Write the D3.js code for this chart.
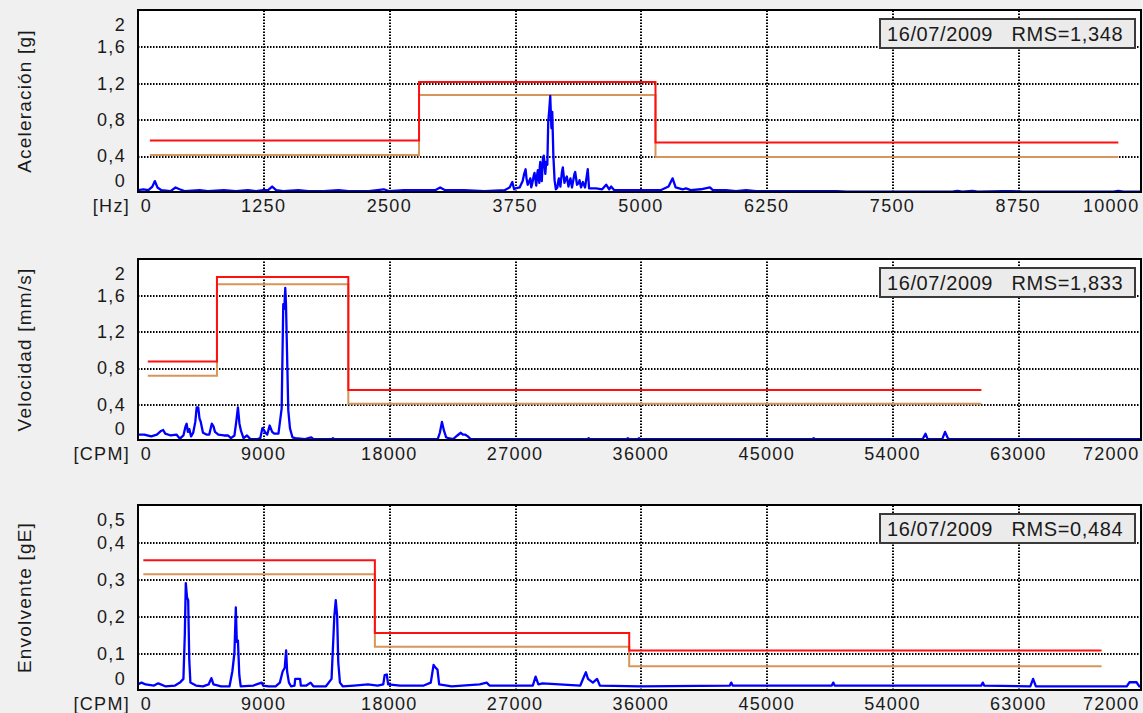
<!doctype html>
<meta charset="utf-8">
<title>Espectros de vibración</title>
<script src="https://cdn.jsdelivr.net/npm/d3@7"></script>
<style>
  body { margin: 0; background: #f0f0f0; }
  svg text { font-family: "Liberation Sans", Arial, sans-serif; }
</style>
<svg id="chart" width="1143" height="713"></svg>
<script>
  // --- datos ---
  const accelXTicks = [0, 1250, 2500, 3750, 5000, 6250, 7500, 8750, 10000]
  const cpmXTicks = [0, 9000, 18000, 27000, 36000, 45000, 54000, 63000, 72000]
  const accelYTicks = [0, 0.4, 0.8, 1.2, 1.6, 2]
  const velYTicks = [0, 0.4, 0.8, 1.2, 1.6, 2]
  const envYTicks = [0, 0.1, 0.2, 0.3, 0.4, 0.5]

  // limites: [inicio, nivel] con curva escalonada
  const accelAlarm = [[125, 0.565], [2800, 1.21], [5150, 0.545], [9750, 0.545]]
  const accelAlert = [[125, 0.407], [2800, 1.066], [5150, 0.385], [9750, 0.385]]
  const velAlarm = [[750, 0.867], [5700, 1.80], [15100, 0.552], [60400, 0.552]]
  const velAlert = [[750, 0.711], [5700, 1.72], [15100, 0.40], [60400, 0.40]]
  const envAlarm = [[430, 0.351], [17000, 0.154], [35200, 0.107], [69000, 0.107]]
  const envAlert = [[430, 0.313], [17000, 0.117], [35200, 0.064], [69000, 0.064]]

  // espectro aceleracion [Hz, g]
  const accelSpectrum = [
    [0, 0.02], [60, 0.03], [110, 0.02], [150, 0.06], [175, 0.12], [200, 0.05], [240, 0.02], [330, 0.01],
    [380, 0.05], [420, 0.03], [470, 0.01], [620, 0.02], [700, 0.01], [860, 0.02], [980, 0.01], [1100, 0.02],
    [1180, 0.01], [1250, 0.02], [1300, 0.02], [1340, 0.06], [1380, 0.02], [1450, 0.01], [1600, 0.02],
    [1700, 0.01], [1850, 0.01], [2000, 0.02], [2100, 0.01], [2300, 0.01], [2450, 0.03], [2500, 0.01],
    [2650, 0.02], [2800, 0.02], [2960, 0.02], [3010, 0.05], [3060, 0.02], [3250, 0.02], [3450, 0.01],
    [3650, 0.02], [3700, 0.05], [3727, 0.11], [3745, 0.03], [3760, 0.04], [3800, 0.05], [3830, 0.12],
    [3845, 0.2], [3859, 0.25], [3868, 0.15], [3880, 0.08], [3895, 0.12], [3906, 0.15], [3915, 0.05],
    [3925, 0.09], [3940, 0.18], [3948, 0.21], [3965, 0.07], [3975, 0.2], [3981, 0.24], [3995, 0.1],
    [4000, 0.28], [4005, 0.33], [4020, 0.12], [4032, 0.38], [4040, 0.40], [4055, 0.2], [4064, 0.33],
    [4075, 0.3], [4084, 0.77], [4094, 0.9], [4104, 1.055], [4112, 0.8], [4116, 0.7], [4124, 0.88],
    [4135, 0.4], [4147, 0.13], [4160, 0.03], [4175, 0.05], [4184, 0.12], [4190, 0.15], [4205, 0.06],
    [4220, 0.22], [4229, 0.27], [4245, 0.1], [4260, 0.15], [4269, 0.17], [4285, 0.06], [4298, 0.12],
    [4305, 0.15], [4320, 0.05], [4345, 0.2], [4352, 0.22], [4370, 0.08], [4388, 0.1], [4395, 0.13],
    [4410, 0.05], [4428, 0.11], [4450, 0.05], [4470, 0.2], [4477, 0.25], [4490, 0.04], [4560, 0.04],
    [4620, 0.03], [4660, 0.08], [4690, 0.03], [4709, 0.06], [4740, 0.02], [4900, 0.02], [5100, 0.02],
    [5200, 0.02], [5280, 0.06], [5320, 0.15], [5350, 0.05], [5420, 0.03], [5453, 0.04], [5500, 0.02],
    [5600, 0.03], [5691, 0.05], [5720, 0.02], [5850, 0.02], [5950, 0.01], [6050, 0.02], [6150, 0.01],
    [6300, 0.01], [6600, 0.01], [6950, 0.01], [7050, 0.005], [8100, 0.005], [8150, 0.012], [8200, 0.005],
    [8300, 0.012], [8350, 0.005], [8600, 0.01], [8700, 0.01], [8800, 0.005], [9700, 0.005], [9750, 0.012],
    [9800, 0.005], [10000, 0.005]
  ]

  // espectro velocidad [CPM, mm/s]
  const velSpectrum = [
    [0, 0.06], [500, 0.06], [1000, 0.04], [1400, 0.06], [1700, 0.10], [1850, 0.11], [2000, 0.07],
    [2400, 0.05], [2800, 0.06], [3050, 0.015], [3300, 0.05], [3450, 0.15], [3530, 0.18], [3620, 0.09],
    [3720, 0.12], [3850, 0.04], [4000, 0.08], [4150, 0.2], [4250, 0.36], [4360, 0.36], [4450, 0.24],
    [4540, 0.20], [4700, 0.08], [4950, 0.06], [5150, 0.06], [5330, 0.18], [5450, 0.15], [5560, 0.09],
    [5800, 0.06], [6200, 0.05], [6500, 0.05], [6700, 0.02], [6950, 0.05], [7080, 0.2], [7200, 0.36],
    [7310, 0.18], [7420, 0.1], [7600, 0.02], [7850, 0.05], [8090, 0.01], [8600, 0.01], [8800, 0.02],
    [8950, 0.13], [9100, 0.1], [9170, 0.08], [9300, 0.06], [9470, 0.16], [9650, 0.09], [9800, 0.07],
    [10100, 0.07], [10330, 0.35], [10445, 1.50], [10520, 1.45], [10588, 1.68], [10640, 1.5], [10710, 1.0],
    [10803, 0.33], [10924, 0.13], [11100, 0.03], [11300, 0.02], [12000, 0.01], [12450, 0.03], [12600, 0.01],
    [13900, 0.01], [14000, 0.02], [14100, 0.01], [21500, 0.01], [21650, 0.08], [21800, 0.2], [21950, 0.1],
    [22100, 0.03], [22250, 0.02], [22600, 0.01], [22900, 0.05], [23150, 0.08], [23300, 0.06], [23450, 0.06],
    [23650, 0.04], [23850, 0.01], [32200, 0.01], [32300, 0.02], [32400, 0.01], [35000, 0.01], [35100, 0.02],
    [35200, 0.01], [35800, 0.01], [35900, 0.02], [36000, 0.01], [48300, 0.01], [48400, 0.02], [48500, 0.01],
    [56200, 0.01], [56400, 0.07], [56550, 0.01], [57600, 0.01], [57800, 0.09], [58000, 0.02], [58100, 0.01],
    [72500, 0.01]
  ]

  // espectro envolvente [CPM, gE]
  const envSpectrum = [
    [0, 0.015], [300, 0.02], [600, 0.015], [1200, 0.012], [1500, 0.018], [2000, 0.01], [2700, 0.012],
    [3050, 0.02], [3300, 0.03], [3400, 0.15], [3470, 0.289], [3560, 0.25], [3640, 0.243], [3720, 0.08],
    [3800, 0.02], [4200, 0.012], [4700, 0.01], [5100, 0.015], [5300, 0.032], [5450, 0.015], [6000, 0.01],
    [6600, 0.01], [6800, 0.05], [6950, 0.1], [7050, 0.223], [7120, 0.13], [7200, 0.134], [7300, 0.04],
    [7400, 0.01], [8300, 0.012], [8900, 0.02], [9000, 0.012], [9400, 0.01], [9900, 0.01], [10200, 0.02],
    [10400, 0.05], [10550, 0.06], [10650, 0.107], [10720, 0.05], [10850, 0.02], [11000, 0.01], [11250, 0.012],
    [11300, 0.03], [11650, 0.03], [11700, 0.012], [12100, 0.012], [12400, 0.02], [12600, 0.01], [13500, 0.01],
    [13900, 0.03], [14100, 0.2], [14200, 0.243], [14300, 0.2], [14380, 0.075], [14500, 0.02], [14700, 0.01],
    [15500, 0.012], [16500, 0.015], [17200, 0.012], [17600, 0.015], [17700, 0.04], [17850, 0.042],
    [17950, 0.015], [18800, 0.012], [20500, 0.012], [21000, 0.02], [21200, 0.068], [21350, 0.06],
    [21480, 0.055], [21600, 0.015], [22500, 0.01], [24500, 0.015], [25000, 0.02], [25200, 0.012],
    [28300, 0.012], [28500, 0.036], [28700, 0.015], [29000, 0.018], [31700, 0.012], [31950, 0.035],
    [32100, 0.048], [32250, 0.03], [32600, 0.02], [32900, 0.03], [33100, 0.012], [36000, 0.01],
    [42400, 0.012], [42500, 0.02], [42600, 0.012], [49700, 0.012], [49800, 0.02], [49900, 0.012],
    [60400, 0.012], [60500, 0.02], [60600, 0.012], [63900, 0.01], [64100, 0.03], [64300, 0.01],
    [70800, 0.01], [71000, 0.021], [71500, 0.021], [71700, 0.01], [72500, 0.01]
  ]

  const panels = [
    { title: 'Aceleración [g]', unit: '[Hz]', rms: '16/07/2009   RMS=1,348', top: 10, bottom: 192,
      xMax: 10000, yMax: 2, xTicks: accelXTicks, yTicks: accelYTicks,
      data: accelSpectrum, alarm: accelAlarm, alert: accelAlert },
    { title: 'Velocidad [mm/s]', unit: '[CPM]', rms: '16/07/2009   RMS=1,833', top: 259, bottom: 440,
      xMax: 72000, yMax: 2, xTicks: cpmXTicks, yTicks: velYTicks,
      data: velSpectrum, alarm: velAlarm, alert: velAlert },
    { title: 'Envolvente [gE]', unit: '[CPM]', rms: '16/07/2009   RMS=0,484', top: 505, bottom: 690,
      xMax: 72000, yMax: 0.5, xTicks: cpmXTicks, yTicks: envYTicks,
      data: envSpectrum, alarm: envAlarm, alert: envAlert },
  ]

  const left = 138
  const right = 1141
  const svg = d3.select('#chart')
  const comma = d3.formatLocale({ decimal: ',', thousands: '', grouping: [3], currency: ['', ''] })
  const yFmt = comma.format('.1~f')

  svg.append('rect').attr('width', 1143).attr('height', 713).attr('fill', '#f0f0f0')

  function drawPanel(p, i) {
    const g = svg.append('g')
    const h = p.bottom - p.top
    const x = d3.scaleLinear().domain([0, p.xMax]).range([137.3, 1143.5])
    const y = d3.scaleLinear().domain([0, p.yMax]).range([p.bottom, p.top])

    g.append('rect')
      .attr('x', left).attr('y', p.top)
      .attr('width', right - left).attr('height', h)
      .attr('fill', '#fff')

    // rejilla punteada
    g.append('g')
      .attr('transform', `translate(0,${p.bottom})`)
      .call(d3.axisBottom(x).tickValues(p.xTicks.filter((v) => v > 0 && x(v) < right)).tickSize(-h).tickFormat(''))
      .call((a) => a.select('.domain').remove())
      .selectAll('line')
      .attr('transform', (d) => `translate(${Math.round(x(d)) + 0.5 - x(d)},0)`)
      .attr('stroke', '#000').attr('stroke-width', 2).attr('stroke-dasharray', '1.5,1.5')
    g.append('g')
      .attr('transform', `translate(${left},0)`)
      .call(d3.axisLeft(y).tickValues(p.yTicks.filter((v) => v > 0 && v < p.yMax)).tickSize(-(right - left)).tickFormat(''))
      .call((a) => a.select('.domain').remove())
      .selectAll('line')
      .attr('transform', (d) => `translate(0,${Math.round(y(d)) + 0.5 - y(d)})`)
      .attr('stroke', '#000').attr('stroke-width', 2).attr('stroke-dasharray', '1.5,1.5')

    const clipId = `clip-${i}`
    svg.append('clipPath').attr('id', clipId)
      .append('rect').attr('x', left).attr('y', p.top).attr('width', right - left).attr('height', h)

    const step = d3.line().x((d) => x(d[0])).y((d) => y(d[1])).curve(d3.curveStepAfter)
    const plot = g.append('g').attr('clip-path', `url(#${clipId})`)
    plot.append('path').attr('d', step(p.alert)).attr('fill', 'none')
      .attr('stroke', '#d6955a').attr('stroke-width', 2)
    plot.append('path').attr('d', step(p.alarm)).attr('fill', 'none')
      .attr('stroke', '#ff1010').attr('stroke-width', 2)

    const line = d3.line().x((d) => x(d[0])).y((d) => y(d[1]))
    plot.append('path').attr('d', line(p.data)).attr('fill', 'none')
      .attr('stroke', '#0000ff').attr('stroke-width', 2.3).attr('stroke-linejoin', 'round')

    g.append('rect')
      .attr('x', left).attr('y', p.top)
      .attr('width', right - left).attr('height', h)
      .attr('fill', 'none').attr('stroke', '#000').attr('stroke-width', 2)

    // etiquetas eje x
    const xa = g.append('g')
      .attr('transform', `translate(0,${p.bottom + 14})`)
      .call(d3.axisBottom(x).tickValues(p.xTicks).tickSize(0).tickPadding(0).tickFormat(d3.format('d')))
      .call((a) => a.select('.domain').remove())
      .attr('font-size', 18).attr('font-family', null).attr('color', '#1a1a1a')
    xa.selectAll('text').attr('dy', '0.35em').attr('y', 0).style('letter-spacing', '1.3px')
    xa.selectAll('text').filter((d) => d === 0).attr('text-anchor', 'start').attr('x', 3)
    xa.selectAll('text').filter((d) => d === p.xMax).attr('text-anchor', 'end').attr('x', 1139 - x(p.xMax))

    g.append('text')
      .attr('x', 130).attr('y', p.bottom + 14).attr('dy', '0.35em')
      .attr('text-anchor', 'end').attr('font-size', 18).attr('fill', '#1a1a1a')
      .style('letter-spacing', '1.3px')
      .text(p.unit)

    // etiquetas eje y
    const ya = g.append('g')
      .attr('transform', 'translate(126,0)')
      .call(d3.axisLeft(y).tickValues(p.yTicks).tickSize(0).tickPadding(0).tickFormat(yFmt))
      .call((a) => a.select('.domain').remove())
      .attr('font-size', 18).attr('font-family', null).attr('color', '#1a1a1a')
    ya.selectAll('text').attr('dy', '0.35em').style('letter-spacing', '1.3px')
    ya.selectAll('text').filter((d) => d === p.yMax).attr('y', 14)
    ya.selectAll('text').filter((d) => d === 0).attr('y', -12)

    g.append('text')
      .attr('transform', `translate(24,${(p.top + p.bottom) / 2}) rotate(-90)`)
      .attr('text-anchor', 'middle').attr('dy', '0.35em')
      .attr('font-size', 19).attr('fill', '#1a1a1a')
      .style('letter-spacing', '1.2px')
      .text(p.title)

    // caja RMS
    g.append('rect')
      .attr('x', 880).attr('y', p.top + 9).attr('width', 255).attr('height', 29)
      .attr('fill', '#ebebeb').attr('stroke', '#3a3a3a').attr('stroke-width', 2)
    g.append('text')
      .attr('x', 887).attr('y', p.top + 24).attr('dy', '0.35em')
      .attr('font-size', 20).attr('fill', '#1a1a1a')
      .style('letter-spacing', '0.6px').style('white-space', 'pre')
      .text(p.rms)
  }

  panels.forEach(drawPanel)
</script>
